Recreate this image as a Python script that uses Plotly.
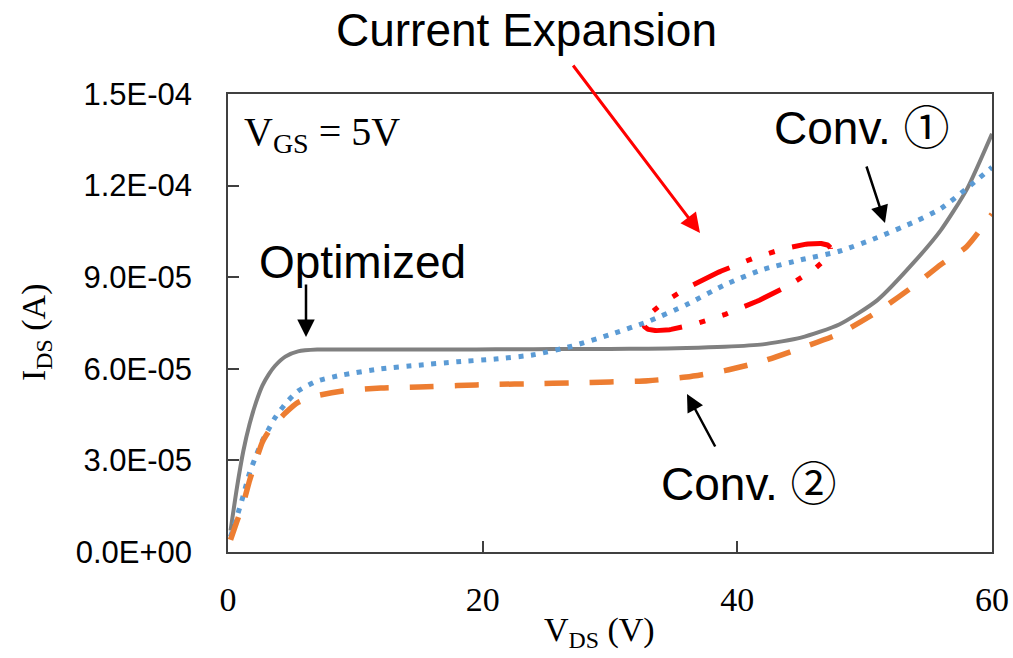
import numpy as np
import plotly.graph_objects as go

# ---------------- data ----------------
vds = [0.2, 0.7, 1.2, 1.7, 2.2, 2.7, 3.2, 3.7, 4.5, 5.5, 7, 9, 12, 15, 18, 21, 24,
       27, 30, 33, 36, 39, 42, 45, 48, 51, 54, 56, 58, 60]

ids_optimized = [7e-6, 2.1e-5, 3.3e-5, 4.2e-5, 4.9e-5, 5.45e-5, 5.82e-5, 6.1e-5, 6.4e-5,
                 6.57e-5, 6.63e-5, 6.63e-5, 6.63e-5, 6.63e-5, 6.63e-5, 6.64e-5, 6.64e-5,
                 6.65e-5, 6.65e-5, 6.66e-5, 6.68e-5, 6.72e-5, 6.8e-5, 7.02e-5, 7.45e-5,
                 8.25e-5, 9.55e-5, 1.055e-4, 1.186e-4, 1.37e-4]

ids_conv1 = [5e-6, 1.15e-5, 1.85e-5, 2.6e-5, 3.15e-5, 3.65e-5, 4.03e-5, 4.4e-5, 4.85e-5,
             5.27e-5, 5.6e-5, 5.8e-5, 6.0e-5, 6.12e-5, 6.23e-5, 6.32e-5, 6.46e-5,
             6.74e-5, 7.12e-5, 7.55e-5, 8.1e-5, 8.75e-5, 9.25e-5, 9.57e-5, 9.85e-5,
             1.03e-4, 1.083e-4, 1.125e-4, 1.19e-4, 1.26e-4]

ids_conv2 = [4e-6, 1.0e-5, 1.6e-5, 2.35e-5, 3.0e-5, 3.6e-5, 3.95e-5, 4.2e-5, 4.55e-5,
             4.9e-5, 5.12e-5, 5.27e-5, 5.37e-5, 5.4e-5, 5.45e-5, 5.49e-5, 5.51e-5,
             5.54e-5, 5.57e-5, 5.61e-5, 5.73e-5, 5.94e-5, 6.25e-5, 6.68e-5, 7.15e-5,
             7.87e-5, 8.76e-5, 9.42e-5, 1.0e-4, 1.107e-4]

x_ticks = [0, 20, 40, 60]
y_ticks = [0, 3e-5, 6e-5, 9e-5, 1.2e-4, 1.5e-4]
y_tick_labels = ["0.0E+00", "3.0E-05", "6.0E-05", "9.0E-05", "1.2E-04", "1.5E-04"]

# ---------------- layout constants ----------------
W, H = 1013, 658
ML, MR, MT, MB = 228, 21, 94, 106
PW, PH = W - ML - MR, H - MT - MB
XMAX, YMAX = 60, 1.5e-4
px_per_x = PW / XMAX
y_per_px = YMAX / PH

fig = go.Figure()

fig.add_trace(go.Scatter(x=vds, y=ids_optimized, mode="lines",
                         line=dict(color="#808080", width=4, shape="spline", smoothing=0.6),
                         hoverinfo="skip", showlegend=False))
fig.add_trace(go.Scatter(x=vds, y=ids_conv1, mode="lines",
                         line=dict(color="#5B9BD5", width=5, dash="5px,7.5px",
                                   shape="spline", smoothing=0.6),
                         hoverinfo="skip", showlegend=False))
fig.add_trace(go.Scatter(x=vds, y=ids_conv2, mode="lines",
                         line=dict(color="#ED7D31", width=5.5, dash="24px,21px",
                                   shape="spline", smoothing=0.6),
                         hoverinfo="skip", showlegend=False))

# ellipse highlighting current expansion (drawn in pixel geometry)
ell_cx, ell_cy = 40.0, 8.68e-5
a_px, b_px, theta = 101, 21, np.deg2rad(22.8)
t = np.linspace(0, 2 * np.pi, 240)
dx = a_px * np.cos(t) * np.cos(theta) - b_px * np.sin(t) * np.sin(theta)
dy = a_px * np.cos(t) * np.sin(theta) + b_px * np.sin(t) * np.cos(theta)
fig.add_trace(go.Scatter(x=ell_cx + dx / px_per_x, y=ell_cy + dy * y_per_px, mode="lines",
                         line=dict(color="#FF0000", width=5,
                                   dash="40px,18px,6px,18px,6px,18px"),
                         hoverinfo="skip", showlegend=False))

sans = "Liberation Sans, Arial, Noto Sans CJK JP, sans-serif"
serif = "Liberation Serif, Times New Roman, serif"

def px2paper(px, py):
    return (px - ML) / PW, (H - MB - py) / PH

annots = []
def text(s, px, py, size, family=sans, xanchor="center", **kw):
    x, y = px2paper(px, py)
    annots.append(dict(text=s, x=x, y=y, xref="paper", yref="paper", showarrow=False,
                       xanchor=xanchor, yanchor="middle",
                       font=dict(size=size, family=family, color="black"), **kw))

text("Current Expansion", 526, 30, 46)
text("Optimized", 362, 262, 46)
text("Conv. ①", 862, 128, 46)
text("Conv. ②", 749, 484, 46)
text("V<sub>GS</sub> = 5V", 242, 134, 40, family=serif, xanchor="left")
text("V<sub>DS</sub> (V)", 599, 632, 34, family=serif)
text("I<sub>DS</sub> (A)", 36, 333, 34, family=serif, textangle=-90)

def arrow(tip_px, tail_px, color="black", width=2.5, size=1.4):
    x, y = px2paper(*tip_px)
    annots.append(dict(text="", x=x, y=y, xref="paper", yref="paper",
                       ax=tail_px[0] - tip_px[0], ay=tail_px[1] - tip_px[1],
                       axref="pixel", ayref="pixel", showarrow=True,
                       arrowhead=2, arrowsize=size, arrowwidth=width, arrowcolor=color,
                       standoff=0, startstandoff=0))

arrow((306, 337), (306, 283))
arrow((885, 223), (866, 165))
arrow((687, 394), (716, 448))
arrow((700, 233), (572, 64), color="#FF0000", width=3, size=1.3)

axis_line = "#404040"
fig.update_layout(
    width=W, height=H, autosize=False,
    margin=dict(l=ML, r=MR, t=MT, b=MB, pad=0, autoexpand=False),
    paper_bgcolor="white", plot_bgcolor="white",
    annotations=annots,
    xaxis=dict(range=[0, XMAX], tickvals=x_ticks, ticks="inside", ticklen=11,
               tickwidth=1.5, tickcolor=axis_line, showline=True, mirror=True,
               linecolor=axis_line, linewidth=1.5, showgrid=False, zeroline=False,
               tickfont=dict(family=serif, size=34, color="black"),
               ticklabelstandoff=16, automargin=False),
    yaxis=dict(range=[0, YMAX], tickvals=y_ticks, ticktext=y_tick_labels,
               ticks="inside", ticklen=11, tickwidth=1.5, tickcolor=axis_line,
               showline=True, mirror=True, linecolor=axis_line, linewidth=1.5,
               showgrid=False, zeroline=False,
               tickfont=dict(family=sans, size=31, color="black"),
               ticklabelstandoff=28, automargin=False),
)

fig.write_html("out.html")
